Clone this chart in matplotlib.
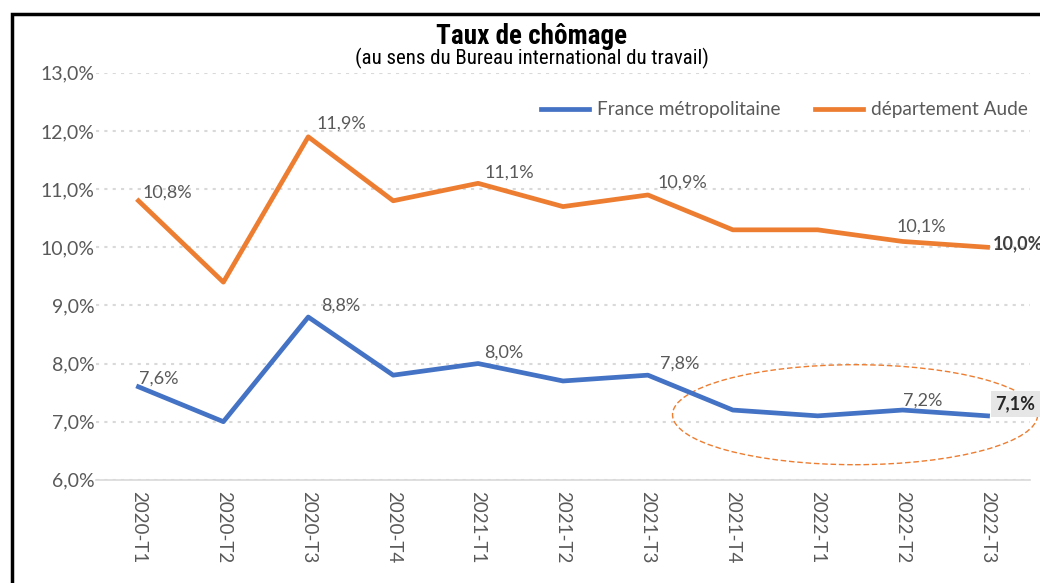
import matplotlib.pyplot as plt
from matplotlib.patches import Ellipse, Rectangle
import matplotlib.font_manager as fm

periods = ['2020-T1', '2020-T2', '2020-T3', '2020-T4', '2021-T1', '2021-T2',
           '2021-T3', '2021-T4', '2022-T1', '2022-T2', '2022-T3']
france = [7.6, 7.0, 8.8, 7.8, 8.0, 7.7, 7.8, 7.2, 7.1, 7.2, 7.1]
aude = [10.8, 9.4, 11.9, 10.8, 11.1, 10.7, 10.9, 10.3, 10.3, 10.1, 10.0]
france_labelled = [0, 2, 4, 6, 9]
aude_labelled = [0, 2, 4, 6, 9]

# label offsets in pixels (left edge dx, centre dy up)
france_off = {0: (1, 8), 2: (13, 11), 4: (6, 11), 6: (12, 12), 9: (0, 9)}
aude_off = {0: (4, 8), 2: (8, 13), 4: (6, 11), 6: (10, 12), 9: (-6, 15)}

names = {f.name for f in fm.fontManager.ttflist}
body = 'Lato' if 'Lato' in names else 'DejaVu Sans'
narrow = 'Liberation Sans'
for cand in ['Liberation Sans Narrow', 'Roboto Condensed']:
    if cand in names:
        narrow = cand
        break
plt.rcParams['font.family'] = [body, 'DejaVu Sans']

blue = '#4472C4'
orange = '#ED7D31'
grey = '#595959'
px = 0.72  # pixels -> points at dpi 100

def fr(v):
    return f'{v:.1f}'.replace('.', ',') + '%'

fig = plt.figure(figsize=(10.4, 5.83), dpi=100)
ax = fig.add_axes([96 / 1040, 0.177, 934 / 1040, 0.698])

x = list(range(len(periods)))
ax.plot(x, france, color=blue, lw=3.4, label='France métropolitaine', solid_joinstyle='round')
ax.plot(x, aude, color=orange, lw=3.4, label='département Aude', solid_joinstyle='round')

for i in france_labelled:
    dx, dy = france_off[i]
    ax.annotate(fr(france[i]), (i, france[i]), xytext=(dx * px, dy * px), textcoords='offset points',
                ha='left', va='center', fontsize=13, color=grey)
for i in aude_labelled:
    dx, dy = aude_off[i]
    ax.annotate(fr(aude[i]), (i, aude[i]), xytext=(dx * px, dy * px), textcoords='offset points',
                ha='left', va='center', fontsize=13, color=grey)

ax.annotate(fr(aude[-1]), (10, aude[-1]), xytext=(5 * px, 4 * px), textcoords='offset points',
            ha='left', va='center', fontsize=13, fontweight='bold', color='#404040')
ax.annotate(fr(france[-1]), (10, france[-1]), xytext=(8 * px, 12 * px), textcoords='offset points',
            ha='left', va='center', fontsize=13, fontweight='bold', color='#262626',
            bbox=dict(boxstyle='square,pad=0.25', fc='#E6E6E6', ec='none'))

ax.add_patch(Ellipse((8.44, 7.12), 4.3, 1.72, fill=False, ec=orange, lw=1, ls=(0, (4, 2)),
                     clip_on=False))

ax.set_xlim(-0.5, 10.5)
ax.set_ylim(6, 13)
ax.set_yticks(range(6, 14))
ax.set_yticklabels([fr(v) for v in range(6, 14)], fontsize=14, color=grey)
ax.set_xticks(x)
ax.set_xticklabels(periods, rotation=270, fontsize=13.5, color=grey)
ax.tick_params(axis='y', length=0, pad=1)
ax.tick_params(axis='x', length=0, pad=8)
ax.grid(axis='y', color='#D9D9D9', ls=(0, (1.5, 2.5)), lw=1.5)
ax.set_axisbelow(True)
for s in ['top', 'right', 'left']:
    ax.spines[s].set_visible(False)
ax.spines['bottom'].set_color('#D9D9D9')
ax.spines['bottom'].set_linewidth(1.2)

ax.legend(loc='center right', bbox_to_anchor=((1028 - 96) / 934, 1 - 37 / 407), ncol=2,
          frameon=False, fontsize=13.7, labelcolor=grey, handlelength=2.5, columnspacing=1.8,
          handletextpad=0.45, borderpad=0, borderaxespad=0)

fig.text(0.511, 1 - 36 / 583, 'Taux de chômage', ha='center', va='center', fontsize=19.5,
         fontweight='bold', family=narrow)
fig.text(0.511, 1 - 58 / 583, '(au sens du Bureau international du travail)', ha='center',
         va='center', fontsize=15, family=narrow)

fig.patches.append(Rectangle((12 / 1040, -0.1), 1.2, 1 - 14 / 583 + 0.1, transform=fig.transFigure,
                             fill=False, ec='black', lw=2.5))

fig.savefig('out.png', dpi=100)
